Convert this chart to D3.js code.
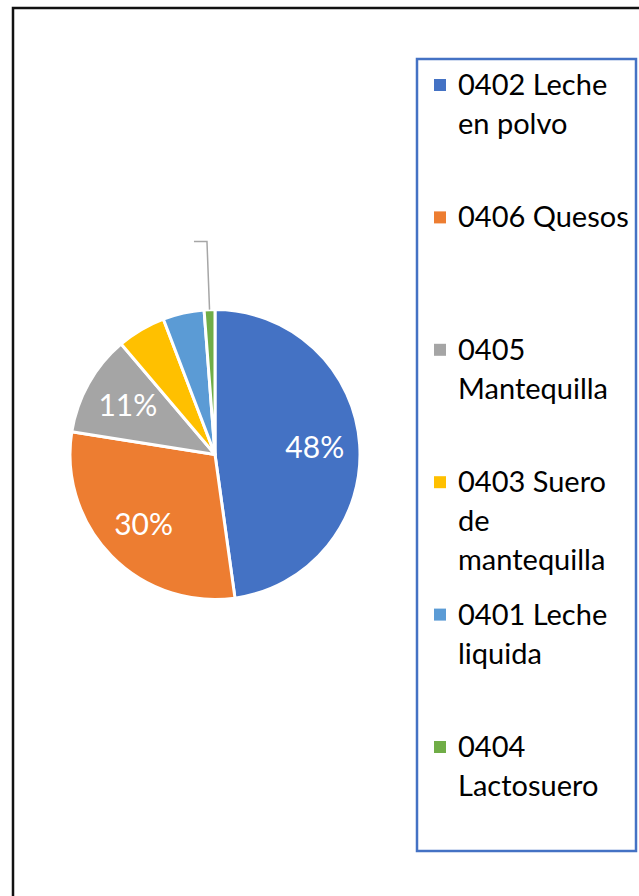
<!DOCTYPE html>
<html>
<head>
<meta charset="utf-8">
<script src="https://cdn.jsdelivr.net/npm/d3@7"></script>
<style>
  body { margin: 0; background: #fff; }
  svg { display: block; }
  text { font-family: Lato, "Open Sans", sans-serif; }
</style>
</head>
<body>
<svg id="chart"></svg>
<script>
// categories and their share of the total
var categories = ["0402 Leche en polvo", "0406 Quesos", "0405 Mantequilla",
                  "0403 Suero de mantequilla", "0401 Leche liquida", "0404 Lactosuero"];
var shares = [47.8, 29.7, 11.3, 5.4, 4.6, 1.2];
var colors = ["#4472C4", "#ED7D31", "#A5A5A5", "#FFC000", "#5B9BD5", "#70AD47"];
var showLabel = [true, true, true, false, false, false];   // only the big slices carry a label
var hasLeader = [false, false, false, false, false, true];  // green slice keeps its leader line

var width = 639, height = 896;
var cx = 215, cy = 454.5, radius = 145;

var svg = d3.select("#chart")
  .attr("width", width)
  .attr("height", height);

svg.append("rect").attr("width", width).attr("height", height).attr("fill", "#fff");

// outer frame (runs off the right and bottom of the picture)
svg.append("path")
  .attr("d", "M13," + height + "V8H" + width)
  .attr("fill", "none")
  .attr("stroke", "#111")
  .attr("stroke-width", 2.5);

var color = d3.scaleOrdinal().domain(categories).range(colors);

var pie = d3.pie().sort(null).value(function(d){ return d.value; });
var data = categories.map(function(c, i){
  return {name: c, value: shares[i], label: showLabel[i], leader: hasLeader[i]};
});
var arcs = pie(data);
var total = d3.sum(shares);

var arc = d3.arc().innerRadius(0).outerRadius(radius);
var labelArc = d3.arc().innerRadius(100).outerRadius(100);

var pieGroup = svg.append("g")
  .attr("transform", "translate(" + cx + "," + cy + ")");

pieGroup.selectAll("path.slice")
  .data(arcs)
  .enter().append("path")
    .attr("class", "slice")
    .attr("d", arc)
    .attr("fill", function(d){ return color(d.data.name); })
    .attr("stroke", "#fff")
    .attr("stroke-width", 3)
    .attr("stroke-linejoin", "round");

pieGroup.selectAll("text.pct")
  .data(arcs.filter(function(d){ return d.data.label; }))
  .enter().append("text")
    .attr("class", "pct")
    .attr("transform", function(d){ return "translate(" + labelArc.centroid(d) + ")"; })
    .attr("text-anchor", "middle")
    .attr("dy", "0.36em")
    .attr("fill", "#fff")
    .attr("font-size", 30)
    .text(function(d){ return d3.format(".0%")(d.data.value / total); });

// leader line for the thin green slice
pieGroup.selectAll("path.leader")
  .data(arcs.filter(function(d){ return d.data.leader; }))
  .enter().append("path")
    .attr("class", "leader")
    .attr("fill", "none")
    .attr("stroke", "#A6A6A6")
    .attr("stroke-width", 1.5)
    .attr("d", function(d){
      var a = (d.startAngle + d.endAngle) / 2;
      var p1 = [Math.sin(a) * radius, -Math.cos(a) * radius];
      var p2 = [Math.sin(a) * radius * 1.47, -Math.cos(a) * radius * 1.47];
      return "M" + p1 + "L" + p2 + "H" + (p2[0] - 13);
    });

// legend
var legend = {x: 417, y: 59, w: 219, h: 792};
svg.append("rect")
  .attr("x", legend.x).attr("y", legend.y)
  .attr("width", legend.w).attr("height", legend.h)
  .attr("fill", "#fff")
  .attr("stroke", "#4472C4")
  .attr("stroke-width", 2.5);

var legendY = d3.scaleLinear().domain([0, categories.length - 1]).range([85, 747]);
var lineHeight = 39;
var textX = 458, maxTextWidth = 176;

var items = svg.append("g").attr("class", "legend")
  .selectAll("g")
  .data(categories)
  .enter().append("g")
    .attr("transform", function(d, i){ return "translate(0," + legendY(i) + ")"; });

items.append("rect")
  .attr("x", 434).attr("y", -6)
  .attr("width", 12).attr("height", 12)
  .attr("fill", function(d){ return color(d); });

items.append("text")
  .attr("x", textX)
  .attr("font-size", 29)
  .attr("fill", "#000")
  .each(function(d){
    // wrap the category name inside the legend box
    var text = d3.select(this);
    var words = d.split(" ");
    var line = [];
    var n = 0;
    var tspan = text.append("tspan").attr("x", textX).attr("y", 10);
    words.forEach(function(w){
      line.push(w);
      tspan.text(line.join(" "));
      if (tspan.node().getComputedTextLength() > maxTextWidth && line.length > 1) {
        line.pop();
        tspan.text(line.join(" "));
        line = [w];
        n++;
        tspan = text.append("tspan").attr("x", textX).attr("y", 10 + n * lineHeight).text(w);
      }
    });
  });
</script>
</body>
</html>
